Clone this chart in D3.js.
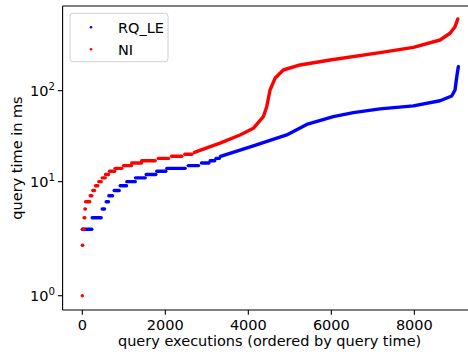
<!DOCTYPE html>
<html><head><meta charset="utf-8">
<script src="https://cdn.jsdelivr.net/npm/d3@7"></script>
<style>body{margin:0;background:#fff} text{font-family:"DejaVu Sans",sans-serif;fill:#000}</style>
</head><body><svg id="c" width="468" height="355"></svg>
<script>
const seriesNames = ["RQ_LE", "NI"];
const seriesColors = ["#0000ff", "#ff0000"];
const xTicks = [0, 2000, 4000, 6000, 8000];
const yTicks = [1, 10, 100];
const yTickExp = ["0", "1", "2"];

// RQ_LE: quantized low part (value, first index, last index)
const blueStepVal   = [3, 4, 5, 6, 7, 8, 9, 10, 11, 12, 13, 14, 15, 16, 17, 18];
const blueStepStart = [0, 238, 479, 575, 639, 768, 913, 1072, 1282, 1540, 1795, 2036, 2552, 2872, 3080, 3220];
const blueStepEnd   = [229, 454, 535, 631, 728, 889, 1065, 1275, 1516, 1771, 2012, 2480, 2800, 3050, 3190, 3300];
// RQ_LE: upper part (index, value)
const blueCurveIdx = [3330, 4120, 4925, 5407, 6048, 6530, 7173, 7976, 8619, 8901, 8980, 9022, 9060];
const blueCurveVal = [19.0, 24.8, 32.6, 42.6, 51.8, 57.3, 63.1, 68.0, 77.6, 87.4, 101.8, 142.5, 183.6];

// NI: quantized low part
const redStepVal   = [1, 2, 3, 4, 5, 6, 7, 8, 9, 10, 11, 12, 13, 14, 15, 16, 17, 18, 19, 20];
const redStepStart = [0, 1, 12, 42, 62, 78, 190, 253, 318, 397, 479, 559, 655, 790, 993, 1190, 1430, 1829, 2149, 2470];
const redStepEnd   = [0, 10, 40, 60, 75, 180, 229, 294, 374, 454, 552, 631, 780, 952, 1185, 1425, 1756, 2077, 2398, 2640];
// NI: upper part
const redCurveIdx = [2700, 3000, 3318, 3800, 4120, 4361, 4443, 4523, 4643, 4843, 5246, 5969, 7173, 7976, 8619, 8860, 8980, 9046];
const redCurveVal = [21.0, 23.5, 26.5, 32.6, 38.6, 51.8, 66.7, 101.8, 136.9, 168.9, 191.9, 217.7, 262, 300, 361, 428, 506, 615];

// matplotlib-style symlog transform (linthresh 2, linscale 1)
const LT = 2, LS = 1 / (1 - 1 / 10);
function symlog(v) {
  const a = Math.abs(v);
  return a <= LT ? v * LS : Math.sign(v) * LT * (LS + Math.log10(a / LT));
}

const svg = d3.select("#c");
const L = 62.6, T = 6, B = 310;
const x = d3.scaleLinear().domain([-475, 9500]).range([L, 476.6]);
const yT = d3.scaleLinear().domain([0.797, 7.483]).range([B, T]);
const y = v => yT(symlog(v));

const series = [
  {steps: blueStepVal.map((v, i) => ({v, s: blueStepStart[i], e: blueStepEnd[i]})),
   curve: blueCurveIdx.map((k, i) => [k, blueCurveVal[i]]), color: seriesColors[0]},
  {steps: redStepVal.map((v, i) => ({v, s: redStepStart[i], e: redStepEnd[i]})),
   curve: redCurveIdx.map((k, i) => [k, redCurveVal[i]]), color: seriesColors[1]}
];

const line = d3.line().x(d => x(d[0])).y(d => y(d[1]));
const plot = svg.append("g");
series.forEach(s => {
  plot.selectAll(null).data(s.steps).join("line")
    .attr("x1", d => x(d.s)).attr("x2", d => x(d.e))
    .attr("y1", d => y(d.v)).attr("y2", d => y(d.v))
    .attr("stroke", s.color).attr("stroke-width", 3.4).attr("stroke-linecap", "round");
  plot.append("path").datum(s.curve).attr("d", line)
    .attr("fill", "none").attr("stroke", s.color).attr("stroke-width", 3.4)
    .attr("stroke-linecap", "round").attr("stroke-linejoin", "round");
});

// spines
const ax = svg.append("g").attr("stroke", "#000").attr("stroke-width", 1.1);
ax.append("line").attr("x1", L).attr("x2", L).attr("y1", T).attr("y2", B);
ax.append("line").attr("x1", L).attr("x2", 477).attr("y1", B).attr("y2", B);
ax.append("line").attr("x1", L).attr("x2", 477).attr("y1", T).attr("y2", T);

// x ticks
xTicks.forEach(t => {
  svg.append("line").attr("x1", x(t)).attr("x2", x(t)).attr("y1", B).attr("y2", B + 4.8)
    .attr("stroke", "#000").attr("stroke-width", 1.1);
  svg.append("text").attr("x", x(t)).attr("y", 329.5).attr("text-anchor", "middle")
    .attr("font-size", 14.5).text(d3.format("d")(t));
});
// y ticks
yTicks.forEach((t, i) => {
  const yy = y(t);
  svg.append("line").attr("x1", L - 4.8).attr("x2", L).attr("y1", yy).attr("y2", yy)
    .attr("stroke", "#000").attr("stroke-width", 1.1);
  const tx = svg.append("text").attr("x", 55).attr("y", yy + 5.3).attr("text-anchor", "end")
    .attr("font-size", 14.5);
  tx.append("tspan").text("10");
  tx.append("tspan").attr("font-size", 10.2).attr("dy", -6).text(yTickExp[i]);
});

svg.append("text").attr("x", (L + 476.6) / 2).attr("y", 346).attr("text-anchor", "middle")
  .attr("font-size", 14.5).text("query executions (ordered by query time)");
svg.append("text").attr("transform", `translate(22,${(T + B) / 2}) rotate(-90)`)
  .attr("text-anchor", "middle").attr("font-size", 14.5).text("query time in ms");

// legend
const lg = svg.append("g");
lg.append("rect").attr("x", 70).attr("y", 13.3).attr("width", 98).attr("height", 48.4).attr("rx", 3)
  .attr("fill", "#fff").attr("fill-opacity", 0.8).attr("stroke", "#d0d0d0").attr("stroke-width", 1);
seriesNames.forEach((n, i) => {
  const cy = 27.3 + i * 22;
  lg.append("circle").attr("cx", 91).attr("cy", cy).attr("r", 1.3).attr("fill", seriesColors[i]);
  lg.append("text").attr("x", 118).attr("y", cy + 5.3).attr("font-size", 14.5).text(n);
});
</script></body></html>
